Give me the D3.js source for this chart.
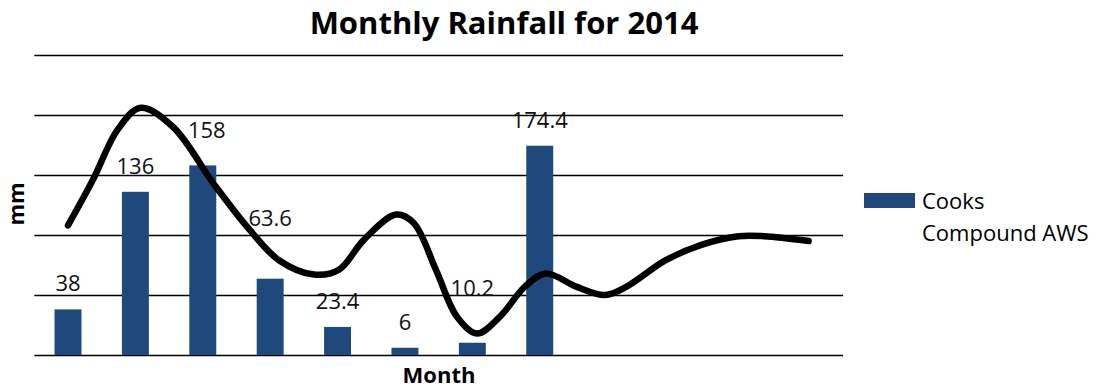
<!DOCTYPE html>
<html>
<head>
<meta charset="utf-8">
<script src="https://cdn.jsdelivr.net/npm/d3@7"></script>
<style>
  body { margin: 0; background: #fff; }
  svg { display: block; font-family: "Open Sans", sans-serif; }
</style>
</head>
<body>
<svg width="1106" height="388"></svg>
<script>
// data
let months = ["Jan", "Feb", "Mar", "Apr", "May", "Jun", "Jul", "Aug", "Sep", "Oct", "Nov", "Dec"]
let rainfall = [38, 136, 158, 63.6, 23.4, 6, 10.2, 174.4]
let yTicks = [0, 50, 100, 150, 200, 250]

// hand drawn trend line: month position, mm
let trendMonth = [0, 0.37, 0.74, 1.08, 1.56, 2.17, 2.7, 3.13, 3.65, 4.02, 4.39, 4.87, 5.13, 5.46, 5.77, 6.07, 6.41, 6.78, 7.09, 7.54, 7.97, 8.29, 8.87, 9.41, 9.95, 10.33, 10.99]
let trendMm = [108, 146, 188, 206, 190, 142, 104, 79, 67, 71, 96, 117, 110, 71, 32, 18, 32, 57, 68, 57, 50, 57, 79, 92, 99, 99, 95]

// label nudges (px, upwards) as placed in the original
let labelNudge = [0, 0, 9, 35, 0, 0, 29, 0]

let svg = d3.select("svg")
let plotLeft = 34.3, plotRight = 843, plotTop = 55, plotBottom = 355

let x = d3.scaleBand()
  .domain(months)
  .range([plotLeft, plotRight])
  .paddingInner(0.6)
  .paddingOuter(0.3)

let y = d3.scaleLinear()
  .domain([0, 250])
  .range([plotBottom, plotTop])

let xPos = d3.scaleLinear()
  .domain([0, months.length - 1])
  .range([x(months[0]) + x.bandwidth() / 2, x(months[months.length - 1]) + x.bandwidth() / 2])

// gridlines
let grid = svg.append("g")
  .attr("transform", `translate(${plotLeft},0)`)
  .call(d3.axisLeft(y).tickValues(yTicks).tickSize(-(plotRight - plotLeft)).tickFormat(""))
grid.select(".domain").remove()
grid.selectAll("line")
  .style("stroke", "#000")
  .style("stroke-width", 1.6)

// bars
svg.selectAll(".bar")
  .data(rainfall)
  .enter()
  .append("rect")
  .attr("x", (d, i) => x(months[i]))
  .attr("y", d => y(d))
  .attr("width", x.bandwidth())
  .attr("height", d => y(0) - y(d))
  .style("fill", "#1F497D")

// value labels
svg.selectAll(".lbl")
  .data(rainfall)
  .enter()
  .append("text")
  .attr("x", (d, i) => x(months[i]) + x.bandwidth() / 2 + (i === 2 ? 4 : 0))
  .attr("y", (d, i) => y(d) - 18 - labelNudge[i])
  .attr("text-anchor", "middle")
  .style("font-size", "22px")
  .style("fill", "#111")
  .text(d => d)

// trend line
let line = d3.line()
  .x(d => xPos(d[0]))
  .y(d => y(d[1]))
  .curve(d3.curveCatmullRom)

svg.append("path")
  .datum(trendMonth.map((m, i) => [m, trendMm[i]]))
  .attr("d", line)
  .style("fill", "none")
  .style("stroke", "#000")
  .style("stroke-width", 6.5)
  .style("stroke-linecap", "round")
  .style("stroke-linejoin", "round")

// title and axis titles
svg.append("text")
  .attr("x", 504)
  .attr("y", 34)
  .attr("text-anchor", "middle")
  .style("font-size", "31px")
  .style("font-weight", "bold")
  .text("Monthly Rainfall for 2014")

svg.append("text")
  .attr("x", 439)
  .attr("y", 383)
  .attr("text-anchor", "middle")
  .style("font-size", "22px")
  .style("font-weight", "bold")
  .text("Month")

svg.append("text")
  .attr("transform", "translate(24,204) rotate(-90)")
  .attr("text-anchor", "middle")
  .style("font-size", "22px")
  .style("font-weight", "bold")
  .text("mm")

// legend
svg.append("rect")
  .attr("x", 864)
  .attr("y", 193)
  .attr("width", 51)
  .attr("height", 15)
  .style("fill", "#1F497D")

svg.append("text")
  .attr("x", 922)
  .attr("y", 209)
  .style("font-size", "22px")
  .text("Cooks")

svg.append("text")
  .attr("x", 922)
  .attr("y", 241)
  .style("font-size", "22px")
  .text("Compound AWS")
</script>
</body>
</html>
